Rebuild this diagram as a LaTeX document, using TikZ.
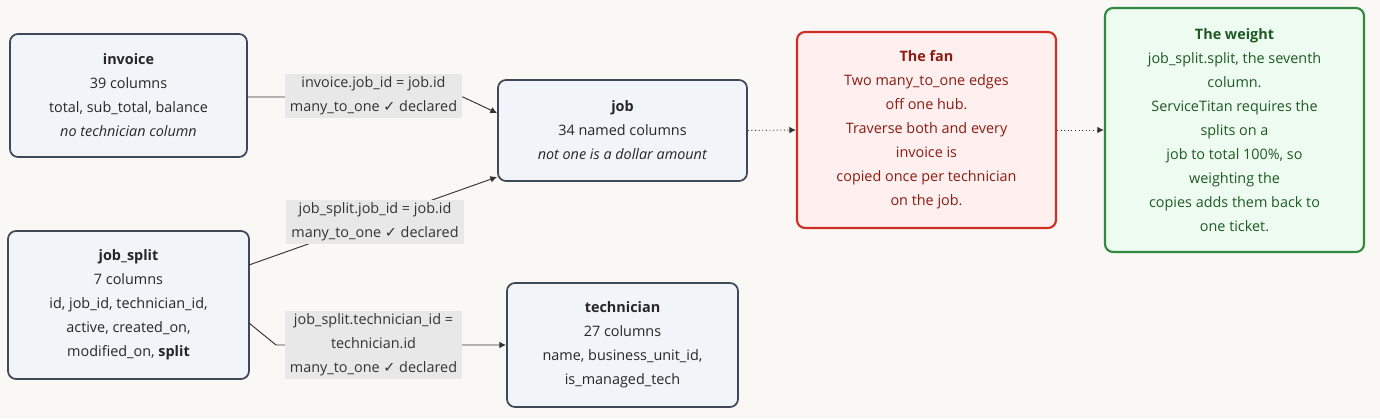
\documentclass[tikz,border=0pt]{standalone}
\usepackage{fontspec}
\setmainfont{Open Sans}
\newfontfamily\symf{DejaVu Sans}
\usetikzlibrary{arrows.meta}
\definecolor{bg}{HTML}{F9F8F5}
\definecolor{nfill}{HTML}{F1F4F9}
\definecolor{ndraw}{HTML}{3E4858}
\definecolor{rfill}{HTML}{FFF0EF}
\definecolor{rdraw}{HTML}{CF2E26}
\definecolor{rtext}{HTML}{8A1C12}
\definecolor{gfill}{HTML}{EEFBF0}
\definecolor{gdraw}{HTML}{2F8A3E}
\definecolor{gtext}{HTML}{1E5A25}
\definecolor{lbl}{HTML}{E8E8E8}
\newcommand{\ck}{{\symf\char"2713}}
\tikzset{
  x=0.75pt,y=-0.75pt,
  every node/.style={font=\fontsize{10.8}{18}\selectfont,align=center,inner sep=0pt},
  box/.style={draw=ndraw,fill=nfill,line width=1.3pt,rounded corners=6pt,text=black!85},
  fan/.style={box,draw=rdraw,fill=rfill,text=rtext,line width=1.6pt},
  wgt/.style={box,draw=gdraw,fill=gfill,text=gtext,line width=1.6pt},
  lab/.style={fill=lbl,text=black!80,inner xsep=4pt,inner ysep=2pt},
  conn/.style={draw=black!80,line width=0.7pt,-{Latex[length=5pt,width=5pt]}},
  dot/.style={conn,dotted}
}
\begin{document}
\begin{tikzpicture}
\fill[bg] (0,0) rectangle (1380,418);
\useasboundingbox (0,0) rectangle (1380,418);
\node[box,minimum width=237*0.75pt,minimum height=123*0.75pt] (inv) at (128.5,95.5) {\textbf{invoice}\\39 columns\\total, sub\_total, balance\\\textit{no technician column}};
\node[box,minimum width=241*0.75pt,minimum height=148*0.75pt] (js) at (128.5,305) {\textbf{job\_split}\\7 columns\\id, job\_id, technician\_id,\\active, created\_on,\\modified\_on, \textbf{split}};
\node[box,minimum width=249*0.75pt,minimum height=101*0.75pt] (job) at (622.5,130.5) {\textbf{job}\\34 named columns\\\textit{not one is a dollar amount}};
\node[box,minimum width=231*0.75pt,minimum height=124*0.75pt] (tech) at (622.5,345) {\textbf{technician}\\27 columns\\name, business\_unit\_id,\\is\_managed\_tech};
\node[fan,minimum width=259*0.75pt,minimum height=196*0.75pt] (fan) at (926.5,130) {\textbf{The fan}\\Two many\_to\_one edges\\off one hub.\\Traverse both and every\\invoice is\\copied once per technician\\on the job.};
\node[wgt,minimum width=259*0.75pt,minimum height=244*0.75pt] (w) at (1234.5,130) {\textbf{The weight}\\job\_split.split, the seventh\\column.\\ServiceTitan requires the\\splits on a\\job to total 100\%, so\\weighting the\\copies adds them back to\\one ticket.};
\coordinate (a1) at (247,97); \coordinate (a2) at (497,113);
\coordinate (b1) at (249,265); \coordinate (b2) at (497,177);
\coordinate (c1) at (249,323); \coordinate (c2) at (506,345);
\draw[conn] (a1) -- (284,97) -- (463,97) -- (a2);
\draw[conn] (b1) -- (b2);
\draw[conn] (c1) -- (276,345) -- (c2);
\node[lab] (l1) at (373.5,96) {invoice.job\_id = job.id\\many\_to\_one \ck{} declared};
\node[lab] (l2) at (375,222) {job\_split.job\_id = job.id\\many\_to\_one \ck{} declared};
\node[lab] (l3) at (373.5,345) {job\_split.technician\_id =\\technician.id\\many\_to\_one \ck{} declared};
\draw[dot] (job.east) -- (fan.west);
\draw[dot] (fan.east) -- (w.west);
\end{tikzpicture}
\end{document}
